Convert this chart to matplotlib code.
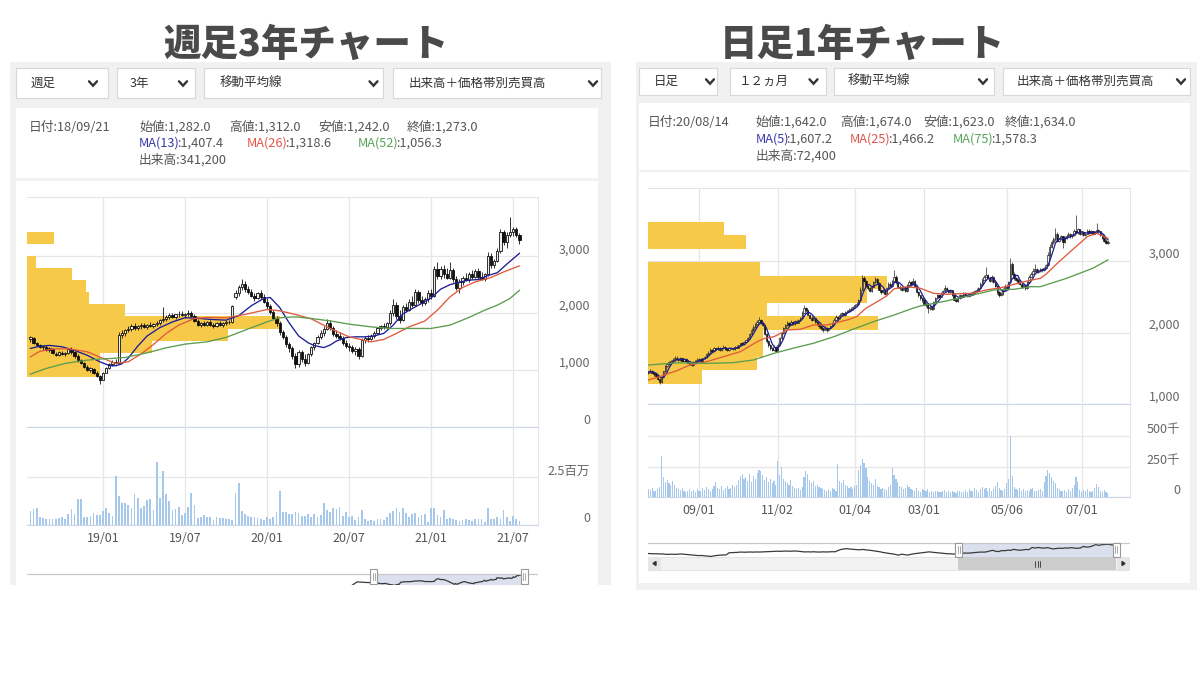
import numpy as np
import pandas as pd
import matplotlib
matplotlib.use('Agg')
import matplotlib.pyplot as plt
import matplotlib.dates as mdates
import matplotlib.transforms as mtrans
from matplotlib.patches import Rectangle
from matplotlib.lines import Line2D

plt.rcParams['font.family'] = ['Noto Sans CJK JP', 'DejaVu Sans']

# ---------------- weekly (3 years) ----------------
w_start = '2018-07-27'
w_open = [1540,1560,1470,1440,1400,1410,1360,1370,1282,1270,
          1300,1280,1300,1360,1310,1240,1170,1120,1060,1000,
          1020,950,900,830,950,1040,1100,1150,1130,1620,
          1650,1700,1720,1780,1740,1770,1790,1760,1800,1780,
          1810,1830,1880,1900,1940,1960,1930,1980,1990,1960,
          1990,2010,1950,1870,1800,1830,1800,1840,1790,1780,
          1820,1790,1830,1850,1840,2280,2350,2460,2520,2420,
          2370,2300,2260,2350,2280,2200,2120,2020,1920,1820,
          1660,1580,1450,1380,1250,1100,1320,1200,1120,1280,
          1400,1480,1580,1650,1730,1820,1740,1640,1600,1560,
          1470,1420,1400,1340,1370,1240,1530,1560,1540,1600,
          1650,1740,1780,1760,1820,2000,2150,1950,1880,2100,
          2060,2200,2150,2380,2230,2180,2250,2350,2300,2780,
          2650,2780,2680,2620,2750,2600,2450,2550,2620,2580,
          2680,2640,2740,2640,2600,2680,3000,2850,2920,3100,
          3420,3250,3380,3420,3480,3380]
w_high = [1600,1580,1500,1460,1430,1440,1400,1390,1312,1330,
          1340,1320,1390,1400,1340,1280,1200,1150,1090,1050,
          1040,980,920,970,1060,1130,1180,1200,1660,1700,
          1730,1770,1810,1820,1800,1820,1830,1810,1840,1830,
          1860,1900,2100,1960,2000,2010,1990,2030,2040,2010,
          2050,2040,1980,1900,1850,1870,1860,1880,1830,1840,
          1860,1840,1880,1880,2150,2400,2500,2600,2560,2480,
          2420,2360,2380,2400,2330,2260,2160,2060,1950,1860,
          1700,1620,1500,1420,1300,1350,1360,1280,1300,1420,
          1500,1620,1700,1780,1900,1880,1780,1700,1660,1600,
          1520,1480,1440,1400,1410,1560,1600,1620,1640,1680,
          1760,1800,1830,1850,2050,2250,2200,2050,2150,2180,
          2250,2300,2420,2400,2300,2280,2400,2420,2820,2900,
          2820,2850,2800,2900,2800,2650,2600,2650,2700,2720,
          2760,2780,2800,2720,2700,3080,3050,2950,3150,3470,
          3460,3420,3680,3520,3520,3400]
w_low = [1500,1450,1420,1380,1360,1340,1320,1290,1242,1250,
         1260,1240,1290,1290,1220,1150,1100,1040,980,960,
         930,880,760,820,940,1020,1070,1100,1120,1560,
         1600,1660,1680,1700,1710,1730,1740,1720,1750,1740,
         1770,1800,1850,1860,1900,1910,1900,1940,1950,1920,
         1950,1940,1850,1780,1760,1780,1770,1780,1740,1750,
         1770,1760,1800,1810,1830,2250,2300,2400,2380,2330,
         2280,2220,2240,2250,2180,2080,1980,1900,1780,1620,
         1540,1400,1320,1200,1040,1060,1150,1080,1100,1250,
         1360,1450,1540,1600,1700,1700,1600,1560,1520,1440,
         1380,1340,1300,1260,1200,1230,1480,1500,1520,1570,
         1630,1700,1730,1740,1800,1950,1900,1820,1860,2020,
         2040,2100,2120,2180,2120,2150,2200,2250,2280,2600,
         2600,2620,2600,2600,2550,2400,2350,2500,2560,2550,
         2600,2620,2600,2580,2560,2650,2800,2800,2900,3050,
         3200,3150,3330,3350,3330,3220]
w_close = [1580,1470,1440,1400,1420,1360,1380,1300,1273,1310,
           1280,1300,1370,1310,1240,1170,1130,1060,1000,1030,
           950,900,820,950,1040,1100,1150,1130,1620,1650,
           1700,1720,1780,1740,1770,1790,1760,1800,1780,1810,
           1830,1880,1900,1940,1960,1930,1980,1990,1960,1990,
           2010,1950,1870,1800,1830,1800,1840,1790,1780,1820,
           1790,1830,1850,1840,2120,2350,2460,2520,2420,2370,
           2300,2260,2350,2280,2200,2120,2020,1920,1820,1660,
           1580,1450,1380,1250,1100,1320,1200,1120,1280,1400,
           1480,1580,1650,1730,1820,1740,1640,1600,1560,1470,
           1420,1400,1340,1370,1240,1530,1560,1540,1600,1650,
           1740,1780,1760,1820,2000,2150,1950,1880,2100,2060,
           2200,2150,2380,2230,2180,2250,2350,2300,2780,2650,
           2780,2680,2620,2750,2600,2450,2550,2620,2580,2680,
           2640,2740,2640,2600,2680,3000,2850,2920,3100,3420,
           3250,3380,3420,3480,3380,3280]
w_volume_k = [750,830,890,400,350,310,300,300,330,350,
              430,300,560,820,570,1340,1340,400,430,490,
              610,520,520,750,870,610,470,2550,1510,1160,
              1160,1040,870,1610,1420,870,990,1300,1350,780,
              3300,1390,2830,1610,1250,780,820,920,520,610,
              950,1650,1040,380,400,520,430,400,260,430,
              350,380,300,300,260,1650,2200,750,560,490,
              430,420,350,300,260,400,300,430,690,1790,
              690,690,570,560,660,610,470,490,560,430,
              560,430,520,1130,780,690,870,820,950,470,
              690,400,470,260,400,780,300,230,260,230,
              300,330,260,430,640,730,870,690,900,640,
              400,560,610,400,520,570,170,870,870,520,
              430,780,300,350,330,260,230,260,300,260,
              230,300,330,300,170,900,300,300,400,300,
              780,400,230,470,300,230]
w_ma13_idx = [0,3,6,10,14,18,22,25,27,29,31,34,37,41,45,49,53,57,62,66,
              70,74,76,79,82,85,88,90,93,95,97,100,103,106,109,112,115,118,121,124,
              127,130,133,136,139,142,145,148,151,155]
w_ma13 = [1380,1420,1433,1409,1345,1260,1145,1080,1075,1110,1210,1420,1600,1745,1845,1920,1910,1890,1877,1955,
          2130,2260,2275,2100,1830,1600,1480,1430,1395,1440,1510,1570,1584,1584,1600,1645,1790,1985,2080,2170,
          2265,2420,2500,2545,2580,2590,2660,2710,2860,3050]
w_ma26_idx = [0,3,7,12,18,23,27,31,35,39,43,47,52,56,62,68,75,79,84,89,
              95,101,108,112,116,120,125,129,133,137,141,146,150,155]
w_ma26 = [1233,1330,1370,1375,1321,1205,1117,1146,1280,1450,1643,1789,1906,1924,1918,1977,2064,2041,1977,1900,
          1731,1584,1496,1538,1643,1759,1860,2052,2286,2450,2549,2626,2724,2830]
w_ma52_idx = [0,5,11,18,22,26,30,37,43,49,56,62,68,75,79,84,89,95,101,108,
              114,120,127,133,139,144,148,152,155]
w_ma52 = [930,1029,1117,1175,1193,1205,1222,1303,1391,1456,1496,1573,1701,1847,1918,1935,1906,1864,1807,1759,
          1731,1731,1731,1789,1924,2052,2140,2257,2400]
# volume by price (relative), bins from low to high
w_vp_low, w_vp_high = 882, 3426
w_vp = [73, 73, 125, 200, 252, 98, 62, 59, 45, 9, 0, 27]
# navigator history before the selected range (week offsets / values)
w_nav_pre_idx = [-22, -17, -12, -6, -1]
w_nav_pre = [900, 1720, 1650, 1560, 1540]
w_price_ticks = [0, 1000, 2000, 3000]
w_vol_ticks = [0, 2500000]
w_vol_labels = ['0', '2.5百万']

# ---------------- daily (12 months) ----------------
d_start, d_end = '2020-07-21', '2021-07-21'
jp_holidays = ['2020-07-23','2020-07-24','2020-08-10','2020-09-21','2020-09-22','2020-11-03',
               '2020-11-23','2020-12-31','2021-01-01','2021-01-11','2021-02-11','2021-02-23',
               '2021-04-29','2021-05-03','2021-05-04','2021-05-05']
d_close = [1450,1470,1440,1420,1400,1350,1310,
           1380,1460,1530,1560,1590,1600,1620,1650,1634,1620,1640,1610,1630,1600,1580,1560,1550,1590,1610,1620,
           1630,1610,1640,1660,1700,1720,1760,1740,1780,1770,1790,1760,1780,1800,1770,1760,1790,1780,1770,1800,
           1790,1820,1850,1840,1870,1890,1920,1980,2040,2080,2120,2150,2180,2140,2110,1980,1880,1820,1780,1760,1800,1750,
           1830,1920,1990,2060,2100,2130,2110,2150,2120,2160,2140,2170,2200,2280,2340,2310,2250,2210,2180,
           2200,2150,2120,2090,2060,2040,2070,2030,2060,2090,2130,2180,2220,2200,2250,2270,2240,2290,2300,2320,2330,2350,
           2380,2400,2450,2600,2760,2720,2650,2620,2580,2640,2700,2750,2690,2600,2560,2600,2540,2620,2680,
           2650,2720,2780,2700,2640,2620,2600,2630,2580,2660,2700,2680,2720,2650,2560,2520,2480,2450,
           2400,2380,2340,2360,2330,2420,2480,2520,2500,2540,2580,2620,2600,2560,2590,2520,2460,2440,2480,2520,2500,2540,2520,
           2510,2540,2530,2560,2580,2600,2620,2680,2740,2780,2800,2760,2720,2780,2700,2650,2560,2520,2540,2600,2640,
           2620,2700,2960,2820,2760,2740,2700,2680,2640,2660,2620,2700,2780,2820,2860,2880,2850,2860,
           2880,2870,2900,2940,3080,3200,3260,3300,3380,3280,3300,3340,3260,3320,3350,3380,3340,3360,3420,3400,3440,3380,
           3400,3360,3380,3420,3390,3410,3380,3400,3430,3410,3360,3320,3280,3250,3270]
d_open = [1430,1450,1470,1440,1420,1400,1350,
          1310,1380,1460,1530,1560,1590,1600,1620,1642,1634,1620,1640,1610,1630,1600,1580,1560,1550,1590,1610,
          1620,1630,1610,1640,1660,1700,1720,1760,1740,1780,1770,1790,1760,1780,1800,1770,1760,1790,1780,1770,
          1800,1790,1820,1850,1840,1870,1890,1920,1980,2040,2080,2120,2150,2180,2140,2100,1980,1880,1820,1780,1760,1800,
          1760,1830,1920,1990,2060,2100,2130,2110,2150,2120,2160,2140,2170,2200,2280,2340,2310,2250,2210,
          2180,2200,2150,2120,2090,2060,2040,2070,2030,2060,2090,2130,2180,2220,2200,2250,2270,2240,2290,2300,2320,2330,
          2350,2380,2400,2450,2600,2760,2720,2650,2620,2580,2640,2700,2750,2690,2600,2560,2600,2540,2620,
          2680,2650,2720,2780,2700,2640,2620,2600,2630,2580,2660,2700,2680,2720,2650,2560,2520,2480,
          2450,2400,2380,2340,2360,2330,2420,2480,2520,2500,2540,2580,2620,2600,2560,2590,2520,2460,2440,2480,2520,2500,2540,
          2520,2510,2540,2530,2560,2580,2600,2620,2680,2740,2780,2800,2760,2720,2780,2700,2650,2560,2520,2540,2600,
          2640,2620,2700,2960,2820,2760,2740,2700,2680,2640,2660,2620,2700,2780,2820,2860,2880,2850,
          2860,2880,2870,2900,2940,3080,3200,3260,3300,3380,3280,3300,3340,3260,3320,3350,3380,3340,3360,3420,3400,3440,
          3380,3400,3360,3380,3420,3390,3410,3380,3400,3430,3410,3360,3320,3280,3250]
d_high = [1470,1490,1480,1450,1430,1410,1360,
          1390,1470,1550,1580,1600,1620,1640,1670,1674,1650,1660,1650,1640,1640,1610,1590,1580,1600,1620,1640,
          1650,1640,1650,1670,1710,1740,1780,1770,1800,1790,1810,1800,1790,1820,1810,1780,1800,1800,1790,1810,
          1820,1830,1860,1870,1880,1900,1940,2000,2060,2100,2140,2170,2220,2190,2150,2110,1990,1900,1840,1800,1820,1810,
          1850,1940,2010,2080,2120,2160,2150,2170,2160,2180,2170,2190,2220,2300,2380,2360,2320,2260,2230,
          2230,2210,2170,2130,2100,2070,2090,2080,2070,2100,2150,2200,2240,2230,2270,2290,2280,2300,2320,2340,2350,2370,
          2400,2420,2470,2630,2800,2790,2730,2670,2640,2660,2720,2780,2760,2700,2610,2620,2610,2640,2700,
          2700,2740,2870,2800,2720,2660,2640,2650,2640,2680,2740,2720,2760,2730,2660,2580,2530,2490,
          2470,2420,2400,2380,2370,2440,2500,2540,2530,2560,2600,2660,2640,2610,2600,2590,2530,2480,2500,2540,2530,2560,2560,
          2540,2550,2560,2580,2600,2620,2640,2700,2760,2800,2910,2820,2780,2800,2790,2710,2660,2580,2560,2620,2680,
          2680,2720,3040,2980,2840,2780,2760,2720,2700,2680,2670,2720,2800,2850,2900,2950,2900,2880,
          2900,2900,2920,2960,3120,3230,3290,3330,3460,3400,3320,3360,3350,3340,3370,3400,3390,3380,3450,3640,3460,3450,
          3420,3420,3400,3440,3440,3430,3420,3420,3530,3450,3420,3370,3340,3300,3290]
d_low = [1420,1440,1430,1400,1380,1340,1280,
         1300,1370,1450,1520,1550,1580,1590,1610,1623,1600,1610,1600,1600,1590,1570,1550,1530,1540,1580,1600,
         1610,1600,1600,1630,1650,1690,1710,1730,1730,1760,1760,1750,1750,1770,1760,1740,1750,1770,1760,1760,
         1780,1780,1810,1830,1830,1860,1880,1910,1970,2020,2060,2100,2140,2120,2090,1960,1860,1800,1760,1740,1750,1730,
         1740,1820,1900,1980,2050,2090,2090,2100,2100,2110,2130,2130,2160,2190,2270,2290,2240,2200,2160,
         2170,2140,2100,2070,2040,2010,2030,2010,2020,2050,2080,2120,2170,2180,2190,2240,2230,2230,2280,2290,2310,2320,
         2340,2360,2390,2440,2590,2700,2630,2600,2560,2570,2630,2690,2680,2590,2540,2550,2520,2530,2610,
         2630,2640,2700,2680,2620,2600,2580,2590,2570,2570,2650,2660,2670,2640,2550,2500,2460,2420,
         2380,2360,2270,2320,2310,2320,2410,2470,2490,2490,2530,2570,2590,2550,2550,2510,2450,2420,2430,2470,2490,2490,2510,
         2490,2500,2510,2520,2550,2570,2590,2610,2670,2730,2770,2750,2700,2710,2690,2640,2540,2500,2510,2530,2590,
         2600,2600,2690,2800,2740,2720,2680,2660,2620,2620,2600,2610,2690,2770,2810,2850,2830,2830,
         2840,2850,2860,2890,2930,3060,3180,3240,3280,3260,3260,3290,3180,3250,3300,3330,3320,3320,3340,3380,3380,3360,
         3360,3340,3350,3370,3370,3380,3360,3370,3390,3390,3350,3300,3260,3230,3240]
d_volume_k = [60,55,70,45,50,65,80,
              336,165,120,140,110,95,130,100,72,60,55,70,45,40,50,65,45,55,40,60,
              50,45,70,55,80,60,50,65,90,125,70,60,85,55,75,90,60,70,100,80,
              95,140,170,190,150,160,130,185,120,170,150,200,220,210,180,140,160,120,150,110,130,100,
              294,180,248,150,130,110,100,140,85,70,60,75,55,80,165,215,190,140,110,
              130,90,100,80,70,60,55,45,65,50,70,60,50,267,130,110,140,100,90,70,80,60,
              90,100,220,260,308,280,240,165,130,110,95,150,90,80,60,70,65,55,80,
              100,234,180,150,120,90,80,60,70,100,80,60,55,50,70,45,40,60,
              55,45,60,40,50,35,45,50,40,35,45,55,40,50,35,45,40,30,45,50,40,35,55,
              40,60,45,50,70,55,40,65,80,60,75,50,70,45,60,90,125,70,55,45,60,
              110,150,500,170,80,60,55,70,45,60,50,55,45,60,70,50,45,55,
              60,45,125,170,220,200,160,130,110,70,60,50,45,55,40,60,50,70,100,160,120,55,
              40,55,45,60,50,35,45,70,105,80,50,40,55,35,30]
d_ma25_idx = [0,6,13,15,22,31,40,49,58,62,67,74,81,88,95,106,111,116,122,127,
              131,138,145,152,159,166,173,180,188,195,202,209,212,219,227,234,239,245]
d_ma25 = [1339,1385,1450,1466,1548,1594,1664,1734,1873,1920,1943,2036,2046,2106,2106,2176,2222,2339,2431,2510,
          2610,2640,2618,2548,2534,2543,2548,2594,2626,2674,2720,2757,2813,2989,3176,3337,3385,3315]
d_ma75_idx = [0,15,31,45,56,67,77,88,99,109,120,131,141,145,159,165,177,184,195,204,209,223,237,245]
d_ma75 = [1548,1578,1571,1580,1618,1711,1781,1851,1943,2046,2152,2245,2339,2371,2441,2478,2548,2594,2604,2640,
          2640,2757,2897,3013]
d_vp_low, d_vp_high = 1283, 3547
d_vp = [54, 110, 116, 116, 231, 120, 220, 240, 113, 0, 99, 76]
d_price_ticks = [1000, 2000, 3000]
d_vol_ticks = [0, 250000, 500000]
d_vol_labels = ['0', '250千', '500千']

# ---------------- UI text ----------------
title_left, title_right = '週足3年チャート', '日足1年チャート'
menu_left = ['週足', '3年', '移動平均線', '出来高＋価格帯別売買高']
menu_right = ['日足', '１２ヵ月', '移動平均線', '出来高＋価格帯別売買高']
info_left_date = '日付:18/09/21'
info_left_ohlc = ['始値:1,282.0', '高値:1,312.0', '安値:1,242.0', '終値:1,273.0']
info_left_ma = [('MA(13)', ':1,407.4'), ('MA(26)', ':1,318.6'), ('MA(52)', ':1,056.3')]
info_left_vol = '出来高:341,200'
info_right_date = '日付:20/08/14'
info_right_ohlc = ['始値:1,642.0', '高値:1,674.0', '安値:1,623.0', '終値:1,634.0']
info_right_ma = [('MA(5)', ':1,607.2'), ('MA(25)', ':1,466.2'), ('MA(75)', ':1,578.3')]
info_right_vol = '出来高:72,400'

C_TXT = '#555555'
C_AX = '#666666'
C_GRID = '#e6e6e6'
C_AXLINE = '#ccd6eb'
C_YEL = '#f7c948'
C_VOL = '#a6c8ea'
MA_LINE = ['#1c1c98', '#e25a3c', '#5c9c4e']
MA_TXT = ['#3838a8', '#e0574a', '#58a35a']
INFO_FS = 9.2

# ================= drawing =================
W, H = 1200, 675
fig = plt.figure(figsize=(12, 6.75), dpi=100)
fig.patch.set_facecolor('white')


def fx(x):
    return x / W


def fy(y):
    return 1 - y / H


def frect(x0, y0, x1, y1, fc, ec='none', lw=0, z=-5):
    fig.add_artist(Rectangle((fx(x0), fy(y1)), (x1 - x0) / W, (y1 - y0) / H,
                             transform=fig.transFigure, facecolor=fc, edgecolor=ec,
                             linewidth=lw, zorder=z))


def fline(xs, ys, color, lw=1, z=5):
    fig.add_artist(Line2D([fx(v) for v in xs], [fy(v) for v in ys], transform=fig.transFigure,
                          color=color, lw=lw, zorder=z, solid_capstyle='round'))


def ftext(x, y, s, **kw):
    return fig.text(fx(x), fy(y), s, **kw)


def chevron(x, y):
    fig.add_artist(Line2D([fx(x - 4), fx(x), fx(x + 4)], [fy(y - 2.2), fy(y + 2.2), fy(y - 2.2)],
                          transform=fig.transFigure, color='#333333', lw=1.7, zorder=5,
                          solid_capstyle='round', solid_joinstyle='miter'))


def add_ax(x0, y0, x1, y1):
    ax = fig.add_axes([fx(x0), fy(y1), (x1 - x0) / W, (y1 - y0) / H])
    ax.set_facecolor('none')
    return ax


renderer = fig.canvas.get_renderer()


def seq_text(x, y, parts, size=INFO_FS):
    cx = x
    for s, c in parts:
        t = ftext(cx, y, s, color=c, fontsize=size, va='center', ha='left')
        bb = t.get_window_extent(renderer=renderer)
        cx = bb.x1 - 2.5


def candles(ax, o, h, l, c, width, lw):
    o, h, l, c = (np.asarray(a, float) for a in (o, h, l, c))
    x = np.arange(len(c))
    up = c >= o
    ax.vlines(x, l, h, color='#111111', lw=lw, zorder=3)
    ax.bar(x[up], np.maximum((c - o)[up], 1), bottom=o[up], width=width, color='#eeeeee',
           edgecolor='#111111', linewidth=lw, zorder=3.2)
    ax.bar(x[~up], (o - c)[~up], bottom=c[~up], width=width, color='#111111',
           edgecolor='#111111', linewidth=lw, zorder=3.2)


def profile(ax, lo, hi, vols, frac=0.495):
    v = np.asarray(vols, float)
    edges = np.linspace(lo, hi, len(v) + 1)
    trans = mtrans.blended_transform_factory(ax.transAxes, ax.transData)
    ax.barh(edges[:-1], v / v.max() * frac, height=edges[1] - edges[0], left=0, align='edge',
            color=C_YEL, linewidth=0, transform=trans, zorder=1)


def style_axes(ax, xticks, yticks, bottom_line=True):
    ax.set_xticks(xticks)
    ax.set_yticks(yticks)
    ax.grid(True, color=C_GRID, lw=0.9)
    ax.set_axisbelow(True)
    ax.tick_params(length=0, labelleft=False, labelbottom=False)
    ax.spines['left'].set_visible(False)
    ax.spines['top'].set_color(C_GRID)
    ax.spines['right'].set_color(C_GRID)
    ax.spines['bottom'].set_color(C_AXLINE if bottom_line else C_GRID)


def ylabels(ax, vals, labels, dx, dy=6.5):
    for v, lab in zip(vals, labels):
        ax.annotate(lab, xy=(1, v), xycoords=('axes fraction', 'data'), xytext=(dx, dy),
                    textcoords='offset pixels', ha='right', va='center', fontsize=9, color=C_AX)


def xlabels(ax, ticks, labels, dy=-13):
    for t, lab in zip(ticks, labels):
        ax.annotate(lab, xy=(t, 0), xycoords=('data', 'axes fraction'), xytext=(0, dy),
                    textcoords='offset pixels', ha='center', va='center', fontsize=9, color=C_TXT)


# ---------- panels / UI ----------
for (px0, py0, px1, py1) in [(10, 62, 611, 585), (636, 62, 1197, 590)]:
    frect(px0, py0, px1, py1, '#f1f1f1', z=-10)
frect(16, 108, 598, 178, 'white', z=-9)
frect(16, 181, 598, 585, 'white', z=-9)
frect(639, 103, 1190, 170, 'white', z=-9)
frect(639, 172, 1190, 583, 'white', z=-9)

ftext(306, 45, title_left, ha='center', va='center', fontsize=27, fontweight='heavy', color='#4a4a4a')
ftext(862, 45, title_right, ha='center', va='center', fontsize=27, fontweight='heavy', color='#4a4a4a')

left_boxes = [(16, 108, 31, 93), (117, 195, 130, 183), (204, 383, 220, 373.5), (393, 601, 408.5, 593)]
for (bx0, bx1, tx, cx), lab in zip(left_boxes, menu_left):
    frect(bx0, 68, bx1, 98, 'white', ec='#d8d8d8', lw=0.8, z=-8)
    ftext(tx, 83.5, lab, ha='left', va='center', fontsize=9, color='#333333')
    chevron(cx, 83.5)
right_boxes = [(639, 717, 653.5, 710), (730, 826, 739, 813.5), (834, 994, 848, 983), (1003, 1190, 1017, 1181)]
for (bx0, bx1, tx, cx), lab in zip(right_boxes, menu_right):
    frect(bx0, 68, bx1, 95, 'white', ec='#d8d8d8', lw=0.8, z=-8)
    ftext(tx, 81.5, lab, ha='left', va='center', fontsize=9, color='#333333')
    chevron(cx, 81.5)

# info texts
ftext(29, 127, info_left_date, va='center', fontsize=INFO_FS, color=C_TXT)
for x, s in zip([139, 229, 318, 407], info_left_ohlc):
    ftext(x, 127, s, va='center', fontsize=INFO_FS, color=C_TXT)
for x, (m, v), col in zip([139, 247, 358], info_left_ma, MA_TXT):
    seq_text(x, 143.5, [(m, col), (v, C_TXT)])
ftext(139, 160, info_left_vol, va='center', fontsize=INFO_FS, color=C_TXT)

ftext(648, 122, info_right_date, va='center', fontsize=INFO_FS, color=C_TXT)
for x, s in zip([755.5, 840, 923, 1005], info_right_ohlc):
    ftext(x, 122, s, va='center', fontsize=INFO_FS, color=C_TXT)
for x, (m, v), col in zip([755.5, 850, 953], info_right_ma, MA_TXT):
    seq_text(x, 139, [(m, col), (v, C_TXT)])
ftext(755.5, 155.5, info_right_vol, va='center', fontsize=INFO_FS, color=C_TXT)

# ---------- weekly chart ----------
nw = len(w_close)
w_dates = pd.date_range(w_start, periods=nw, freq='W-FRI')
w_ticks = [i for i in range(1, nw) if w_dates[i].month != w_dates[i - 1].month and w_dates[i].month in (1, 7)]
w_tlabels = [w_dates[i].strftime('%y/%m') for i in w_ticks]
w_xlim = (-1.1, 160.9)

axp = add_ax(27, 197, 538, 427)
axv = add_ax(27, 427, 538, 525)
profile(axp, w_vp_low, w_vp_high, w_vp)
candles(axp, w_open, w_high, w_low, w_close, 0.72, 0.6)
for idx, val, col in zip([w_ma13_idx, w_ma26_idx, w_ma52_idx], [w_ma13, w_ma26, w_ma52], MA_LINE):
    axp.plot(idx, val, color=col, lw=0.95, zorder=4)
axp.set_xlim(*w_xlim)
axp.set_ylim(0, 4040)
style_axes(axp, w_ticks, w_price_ticks)
ylabels(axp, w_price_ticks, [f'{v:,}' for v in w_price_ticks], 52)

axv.bar(np.arange(nw), np.asarray(w_volume_k) * 1000, width=0.55, color=C_VOL, zorder=2)
axv.set_xlim(*w_xlim)
axv.set_ylim(0, 5.1e6)
style_axes(axv, w_ticks, w_vol_ticks)
axv.spines['top'].set_visible(False)
ylabels(axv, w_vol_ticks, w_vol_labels, 52, 6)
xlabels(axv, w_ticks, w_tlabels, -13)

# weekly navigator (clipped by the screenshot edge)
axn = add_ax(27, 574, 537, 585)
axn.set_xlim(-359, 169.5)
axn.set_ylim(950, 3700)
axn.axvspan(-0.5, nw - 0.5, color='#dae0ee', lw=0, zorder=0)
axn.plot(list(w_nav_pre_idx) + list(range(nw)), list(w_nav_pre) + list(w_close), color='#3a3a3a', lw=0.9, zorder=2)
axn.axis('off')
fline([27, 537], [574, 574], '#c8c8c8', lw=0.9)
for hx in (373.5, 524):
    frect(hx - 3.5, 569, hx + 3.5, 584, 'white', ec='#999999', lw=0.8, z=6)
    fline([hx - 1, hx - 1], [573, 580], '#999999', lw=0.6, z=7)
    fline([hx + 1, hx + 1], [573, 580], '#999999', lw=0.6, z=7)

# ---------- daily chart ----------
d_dates = pd.bdate_range(d_start, d_end, freq='C', holidays=jp_holidays)
nd = min(len(d_dates), len(d_close))
d_dates = d_dates[:nd]
d_ticks = [i for i in range(1, nd) if d_dates[i].month != d_dates[i - 1].month and d_dates[i].month in (1, 3, 5, 7, 9, 11)]
d_tlabels = [d_dates[i].strftime('%m/%d') for i in d_ticks]
d_xlim = (-0.2, 256.8)

bxp = add_ax(648, 188.3, 1130, 404.3)
bxv = add_ax(648, 404.3, 1130, 496.7)
profile(bxp, d_vp_low, d_vp_high, d_vp)
candles(bxp, d_open[:nd], d_high[:nd], d_low[:nd], d_close[:nd], 0.7, 0.45)
d_ma5 = pd.Series(d_close[:nd], dtype=float).rolling(5, min_periods=1).mean()
bxp.plot(np.arange(nd), d_ma5, color=MA_LINE[0], lw=0.9, zorder=4)
bxp.plot(d_ma25_idx, d_ma25, color=MA_LINE[1], lw=0.95, zorder=4)
bxp.plot(d_ma75_idx, d_ma75, color=MA_LINE[2], lw=0.95, zorder=4)
bxp.set_xlim(*d_xlim)
bxp.set_ylim(1000, 4012)
style_axes(bxp, d_ticks, d_price_ticks)
ylabels(bxp, d_price_ticks, [f'{v:,}' for v in d_price_ticks], 50, 7)

bxv.bar(np.arange(nd), np.asarray(d_volume_k[:nd]) * 1000, width=0.62, color=C_VOL, zorder=2)
bxv.set_xlim(*d_xlim)
bxv.set_ylim(0, 765000)
style_axes(bxv, d_ticks, d_vol_ticks)
bxv.spines['top'].set_visible(False)
ylabels(bxv, d_vol_ticks, d_vol_labels, 50, 6.5)
xlabels(bxv, d_ticks, d_tlabels, -13.5)

# daily navigator over the longer history
sel0 = mdates.date2num(d_dates[0])
sel1 = mdates.date2num(d_dates[-1])
pxd = (1116 - 958) / (sel1 - sel0)
bxn = add_ax(648, 543, 1129, 557)
bxn.set_xlim(sel0 - (958 - 648) / pxd, sel1 + (1129 - 1116) / pxd)
bxn.set_ylim(700, 3750)
bxn.axvspan(sel0, sel1, color='#dae0ee', lw=0, zorder=0)
bxn.plot(mdates.date2num(w_dates), w_close, color='#3a3a3a', lw=0.9, zorder=2)
bxn.axis('off')
fline([648, 1129], [543, 543], '#c8c8c8', lw=0.9)
# scrollbar
frect(648, 557, 1129, 570, '#f2f2f2', ec='#e0e0e0', lw=0.6, z=5)
frect(958, 557, 1116, 570, '#cccccc', z=5.5)
for gx in (1035, 1037.5, 1040):
    fline([gx, gx], [561, 566.5], '#333333', lw=0.6, z=6)
frect(648, 557, 661, 570, '#e6e6e6', z=5.6)
frect(1117, 557, 1129, 570, '#e6e6e6', z=5.6)
fig.add_artist(plt.Polygon([[fx(653), fy(563.5)], [fx(656), fy(561.5)], [fx(656), fy(565.5)]],
                           closed=True, transform=fig.transFigure, color='#333333', zorder=6))
fig.add_artist(plt.Polygon([[fx(1125), fy(563.5)], [fx(1122), fy(561.5)], [fx(1122), fy(565.5)]],
                           closed=True, transform=fig.transFigure, color='#333333', zorder=6))
for hx in (958.5, 1116):
    frect(hx - 3.5, 542.5, hx + 3.5, 556.5, 'white', ec='#999999', lw=0.8, z=6)
    fline([hx - 1, hx - 1], [546, 553], '#999999', lw=0.6, z=7)
    fline([hx + 1, hx + 1], [546, 553], '#999999', lw=0.6, z=7)

fig.savefig('out.png', dpi=100, facecolor='white')
